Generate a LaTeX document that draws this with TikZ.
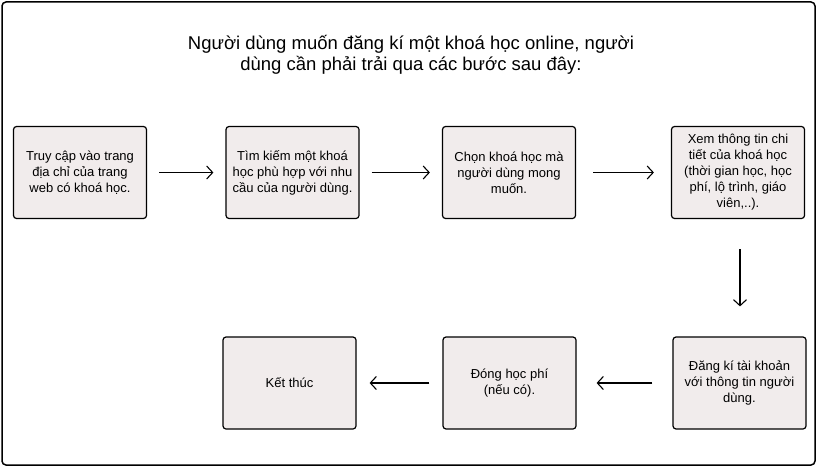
\documentclass[tikz,border=0pt]{standalone}
\usepackage{fontspec}
\setmainfont{Liberation Sans}
\usepackage{tikz}
\usetikzlibrary{arrows.meta}
\usetikzlibrary{positioning}
\definecolor{boxfill}{HTML}{F1ECEC}
\tikzset{stepbox/.style = {draw, fill=boxfill, line width=1.2pt, rounded corners=3pt,
                           minimum width=133pt, minimum height=92pt, align=center,
                           font=\fontsize{13}{16}\selectfont}}
\tikzset{flow/.style = {-{Straight Barb[length=6pt, width=13pt]}, line width=1.1pt,
                        shorten >=#1, shorten <=#1}}
\tikzset{flow/.default = 12pt}

\begin{document}
\begin{tikzpicture}[x=1pt, y=-1pt]
      \useasboundingbox (0, 0) rectangle (818, 468);
      \draw [line width=1.5pt, rounded corners=4pt] (2, 2) rectangle (815, 465);

      \node [align=center, font=\fontsize{18.5}{21.5}\selectfont] (title) at (411, 55) {Người dùng muốn đăng kí một khoá học online, người\\dùng cần phải trải qua các bước sau đây:};

      \node [stepbox] (truycap) at (80, 172.5) {Truy cập vào trang\\địa chỉ của trang\\web có khoá học.};
      \node [stepbox] (timkiem) at (292.5, 172.5) {Tìm kiếm một khoá\\học phù hợp với nhu\\cầu của người dùng.};
      \node [stepbox] (chon) at (509, 172.5) {Chọn khoá học mà\\người dùng mong\\muốn.};
      \node [stepbox] (xem) at (738, 172.5) {Xem thông tin chi\\tiết của khoá học\\(thời gian học, học\\phí, lộ trình, giáo\\viên,..).};
      \node [stepbox] (dangki) at (739.5, 383) {Đăng kí tài khoản\\với thông tin người\\dùng.};
      \node [stepbox] (donghp) at (509.5, 383) {Đóng học phí\\(nếu có).};
      \node [stepbox] (ketthuc) at (289.5, 383) {Kết thúc};

      \draw [flow] (truycap) -- (timkiem);
      \draw [flow] (timkiem) -- (chon);
      \draw [flow=17pt] (chon) -- (xem);
      \draw [flow=30pt] (xem.south -| 740, 0) -- (dangki.north -| 740, 0);
      \draw [flow=20pt] (dangki) -- (donghp);
      \draw [flow=13pt] (donghp) -- (ketthuc);
    \end{tikzpicture}
\end{document}
